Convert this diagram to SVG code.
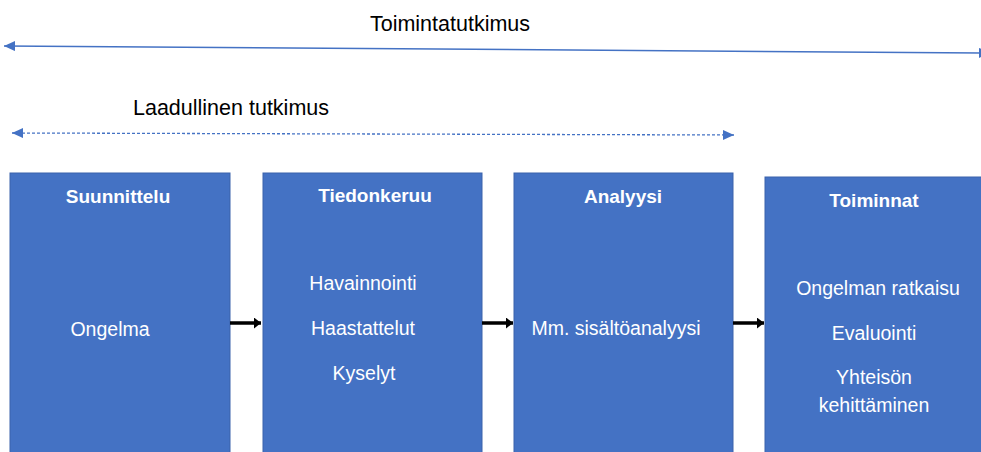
<svg xmlns="http://www.w3.org/2000/svg" width="981" height="452" viewBox="0 0 981 452">
<style>
.box{fill:#4472C4;stroke:#3A62AB;stroke-width:1}
.h{font-family:"Liberation Sans",Arial,sans-serif;font-weight:bold;font-size:19px;fill:#fff;text-anchor:middle}
.t{font-family:"Liberation Sans",Arial,sans-serif;font-size:19.5px;fill:#fff;text-anchor:middle}
.lbl{font-family:"Liberation Sans",Arial,sans-serif;font-size:21.5px;fill:#000;text-anchor:middle}
.span{stroke:#4472C4;fill:none}
.flow{stroke:#000;stroke-width:3.5;fill:none}
</style>
<defs>
<marker id="bh" viewBox="0 0 10 10" refX="10" refY="5" markerWidth="11" markerHeight="10" preserveAspectRatio="none" markerUnits="userSpaceOnUse" orient="auto-start-reverse">
<path d="M0,0 L10,5 L0,10 Z" fill="#4472C4"/>
</marker>
<marker id="kh" viewBox="0 0 10 10" refX="10" refY="5" markerWidth="7" markerHeight="11" preserveAspectRatio="none" markerUnits="userSpaceOnUse" orient="auto">
<path d="M0,0 L10,5 L0,10 Z" fill="#000"/>
</marker>
</defs>

<g id="label-toimintatutkimus"><text class="lbl" x="450" y="31">Toimintatutkimus</text></g>
<g id="label-laadullinen"><text class="lbl" x="231" y="115">Laadullinen tutkimus</text></g>

<g id="node-suunnittelu">
<rect class="box" x="10" y="173" width="220" height="290"/>
<text class="h" x="118" y="203">Suunnittelu</text>
<text class="t" x="110" y="336">Ongelma</text>
</g>

<g id="node-tiedonkeruu">
<rect class="box" x="263" y="173" width="219" height="290"/>
<text class="h" x="375" y="202">Tiedonkeruu</text>
<text class="t" x="363" y="290">Havainnointi</text>
<text class="t" x="363" y="335">Haastattelut</text>
<text class="t" x="364" y="380">Kyselyt</text>
</g>

<g id="node-analyysi">
<rect class="box" x="514" y="173" width="219" height="290"/>
<text class="h" x="623" y="203">Analyysi</text>
<text class="t" x="616" y="335">Mm. sisältöanalyysi</text>
</g>

<g id="node-toiminnat">
<rect class="box" x="765" y="177" width="230" height="290"/>
<text class="h" x="874" y="207">Toiminnat</text>
<text class="t" x="878" y="295">Ongelman ratkaisu</text>
<text class="t" x="874" y="340">Evaluointi</text>
<text class="t" x="874" y="384">Yhteisön</text>
<text class="t" x="874" y="412">kehittäminen</text>
</g>

<g id="connectors">
<line class="span" stroke-width="1.5" x1="4" y1="46" x2="990" y2="53" marker-start="url(#bh)" marker-end="url(#bh)"/>
<line class="span" stroke-width="1.3" stroke-dasharray="3 2" x1="12" y1="133" x2="734" y2="135" marker-start="url(#bh)" marker-end="url(#bh)"/>
<line class="flow" x1="230" y1="323" x2="261" y2="323" marker-end="url(#kh)"/>
<line class="flow" x1="482" y1="323" x2="513" y2="323" marker-end="url(#kh)"/>
<line class="flow" x1="733" y1="323" x2="764" y2="323" marker-end="url(#kh)"/>
</g>
</svg>
